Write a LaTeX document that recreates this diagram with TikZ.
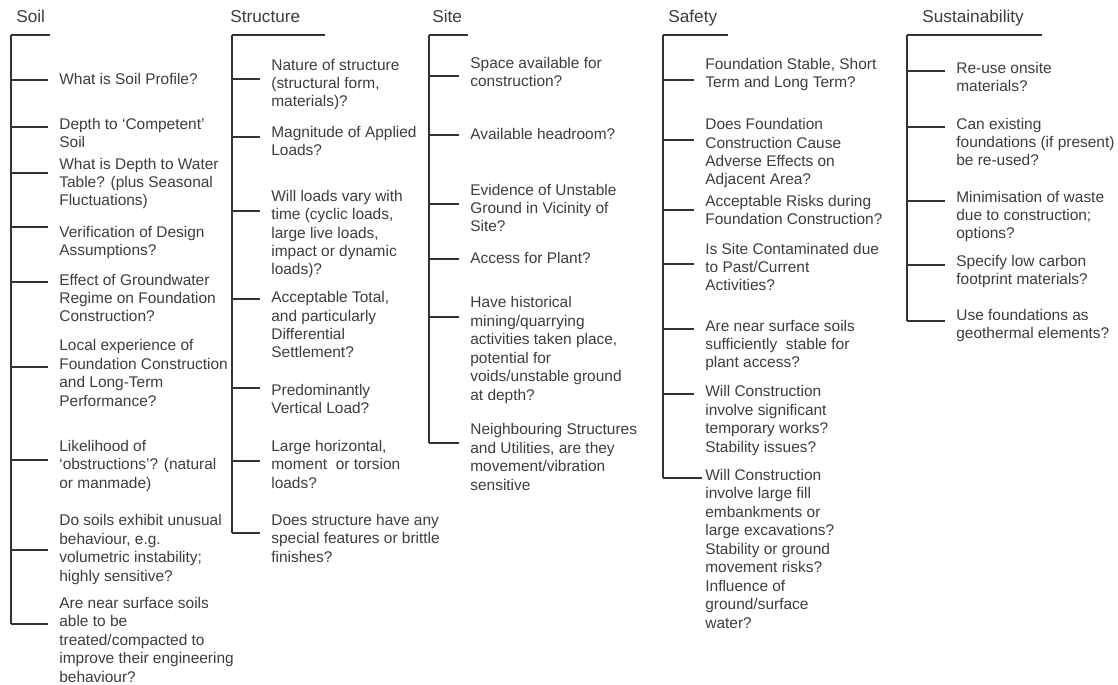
\documentclass[tikz,border=0pt]{standalone}
\usepackage{fontspec}
\setmainfont{Liberation Sans}
\definecolor{inkgray}{HTML}{3D3D3D}
\definecolor{rulegray}{HTML}{333333}

\begin{document}
\begin{tikzpicture}[x=0.02cm, y=-0.02cm,
  head/.style={anchor=base west, inner sep=0pt,
    font=\fontsize{9.8}{11.8}\selectfont, text=inkgray},
  item/.style={anchor=base west, inner sep=0pt, align=left,
    font=\fontsize{8.8}{10.5}\selectfont, text=inkgray},
  bar/.style={draw=rulegray, line width=1.3pt},
  spine/.style={draw=rulegray, line width=1pt},
  tick/.style={draw=rulegray, line width=0.8pt, shorten >=0.22cm}
]
\useasboundingbox (0,0) rectangle (1118,685);
% the five headings
\node[head] (hsoil) at (16,23) {Soil};
\node[head] (hstru) at (230,23) {Structure};
\node[head] (hsite) at (432,23) {Site};
\node[head] (hsafe) at (668,23) {Safety};
\node[head] (hsust) at (922,23) {Sustainability};
\coordinate (soil) at (11,35);
\coordinate (stru) at (232,35);
\coordinate (site) at (429,35);
\coordinate (safe) at (663,35);
\coordinate (sust) at (907,35);
% soil (items placed by the baseline of their last line)
\node[item] (s1) at (59,85) {What is Soil Profile?};
\node[item] (s2) at (59,148) {Depth to `Competent'\\Soil};
\node[item] (s3) at (59,206) {What is Depth to Water\\Table? (plus Seasonal\\Fluctuations)};
\node[item] (s4) at (59,256) {Verification of Design\\Assumptions?};
\node[item] (s5) at (59,322) {Effect of Groundwater\\Regime on Foundation\\Construction?};
\node[item] (s6) at (59,406) {Local experience of\\Foundation Construction\\and Long-Term\\Performance?};
\node[item] (s7) at (59,488) {Likelihood of\\`obstructions'? (natural\\or manmade)};
\node[item] (s8) at (59,581) {Do soils exhibit unusual\\behaviour, e.g.\\volumetric instability;\\highly sensitive?};
\node[item] (s9) at (59,682) {Are near surface soils\\able to be\\treated/compacted to\\improve their engineering\\behaviour?};
\draw[bar] (soil) -- ++(39,0);
\draw[spine] (soil) -- (soil |- 0,624);
\draw[tick] (soil |- 0,80) -- (s1.west |- 0,80);
\draw[tick] (soil |- 0,127) -- (s2.west |- 0,127);
\draw[tick] (soil |- 0,173) -- (s3.west |- 0,173);
\draw[tick] (soil |- 0,227) -- (s4.west |- 0,227);
\draw[tick] (soil |- 0,282) -- (s5.west |- 0,282);
\draw[tick] (soil |- 0,367) -- (s6.west |- 0,367);
\draw[tick] (soil |- 0,460) -- (s7.west |- 0,460);
\draw[tick] (soil |- 0,550) -- (s8.west |- 0,550);
\draw[tick] (soil |- 0,624) -- (s9.west |- 0,624);
% structure
\node[item] (t1) at (271,107) {Nature of structure\\(structural form,\\materials)?};
\node[item] (t2) at (271,156) {Magnitude of Applied\\Loads?};
\node[item] (t3) at (271,275) {Will loads vary with\\time (cyclic loads,\\large live loads,\\impact or dynamic\\loads)?};
\node[item] (t4) at (271,358) {Acceptable Total,\\and particularly\\Differential\\Settlement?};
\node[item] (t5) at (271,414) {Predominantly\\Vertical Load?};
\node[item] (t6) at (271,488) {Large horizontal,\\moment\ \ or torsion\\loads?};
\node[item] (t7) at (271,562) {Does structure have any\\special features or brittle\\finishes?};
\draw[bar] (stru) -- ++(93,0);
\draw[spine] (stru) -- (stru |- 0,533);
\draw[tick] (stru |- 0,79) -- (t1.west |- 0,79);
\draw[tick] (stru |- 0,137) -- (t2.west |- 0,137);
\draw[tick] (stru |- 0,211) -- (t3.west |- 0,211);
\draw[tick] (stru |- 0,299) -- (t4.west |- 0,299);
\draw[tick] (stru |- 0,388) -- (t5.west |- 0,388);
\draw[tick] (stru |- 0,461) -- (t6.west |- 0,461);
\draw[tick] (stru |- 0,533) -- (t7.west |- 0,533);
% site
\node[item] (i1) at (470,87) {Space available for\\construction?};
\node[item] (i2) at (470,140) {Available headroom?};
\node[item] (i3) at (470,232) {Evidence of Unstable\\Ground in Vicinity of\\Site?};
\node[item] (i4) at (470,264) {Access for Plant?};
\node[item] (i5) at (470,400) {Have historical\\mining/quarrying\\activities taken place,\\potential for\\voids/unstable ground\\at depth?};
\node[item] (i6) at (470,490) {Neighbouring Structures\\and Utilities, are they\\movement/vibration\\sensitive};
\draw[bar] (site) -- ++(39,0);
\draw[spine] (site) -- (site |- 0,443);
\draw[tick] (site |- 0,76) -- (i1.west |- 0,76);
\draw[tick] (site |- 0,135) -- (i2.west |- 0,135);
\draw[tick] (site |- 0,204) -- (i3.west |- 0,204);
\draw[tick] (site |- 0,259) -- (i4.west |- 0,259);
\draw[tick] (site |- 0,317) -- (i5.west |- 0,317);
\draw[tick] (site |- 0,443) -- (i6.west |- 0,443);
% safety
\node[item] (f1) at (705,88) {Foundation Stable, Short\\Term and Long Term?};
\node[item] (f2) at (705,185) {Does Foundation\\Construction Cause\\Adverse Effects on\\Adjacent Area?};
\node[item] (f3) at (705,225) {Acceptable Risks during\\Foundation Construction?};
\node[item] (f4) at (705,291) {Is Site Contaminated due\\to Past/Current\\Activities?};
\node[item] (f5) at (705,368) {Are near surface soils\\sufficiently\ \ stable for\\plant access?};
\node[item] (f6) at (705,452) {Will Construction\\involve significant\\temporary works?\\Stability issues?};
\node[item] (f7) at (705,628) {Will Construction\\involve large fill\\embankments or\\large excavations?\\Stability or ground\\movement risks?\\Influence of\\ground/surface\\water?};
\draw[bar] (safe) -- ++(65,0);
\draw[spine] (safe) -- (safe |- 0,478);
\draw[tick] (safe |- 0,80) -- (f1.west |- 0,80);
\draw[tick] (safe |- 0,140) -- (f2.west |- 0,140);
\draw[tick] (safe |- 0,210) -- (f3.west |- 0,210);
\draw[tick] (safe |- 0,264) -- (f4.west |- 0,264);
\draw[tick] (safe |- 0,329) -- (f5.west |- 0,329);
\draw[tick] (safe |- 0,394) -- (f6.west |- 0,394);
\draw[tick, shorten >=0.06cm] (safe |- 0,478) -- (f7.west |- 0,478);
% sustainability
\node[item] (u1) at (956,92) {Re-use onsite\\materials?};
\node[item] (u2) at (956,166) {Can existing\\foundations (if present)\\be re-used?};
\node[item] (u3) at (956,239) {Minimisation of waste\\due to construction;\\options?};
\node[item] (u4) at (956,285) {Specify low carbon\\footprint materials?};
\node[item] (u5) at (956,339) {Use foundations as\\geothermal elements?};
\draw[bar] (sust) -- ++(135,0);
\draw[spine] (sust) -- (sust |- 0,321);
\draw[tick] (sust |- 0,71) -- (u1.west |- 0,71);
\draw[tick] (sust |- 0,127) -- (u2.west |- 0,127);
\draw[tick] (sust |- 0,201) -- (u3.west |- 0,201);
\draw[tick] (sust |- 0,265) -- (u4.west |- 0,265);
\draw[tick] (sust |- 0,321) -- (u5.west |- 0,321);
\end{tikzpicture}
\end{document}
